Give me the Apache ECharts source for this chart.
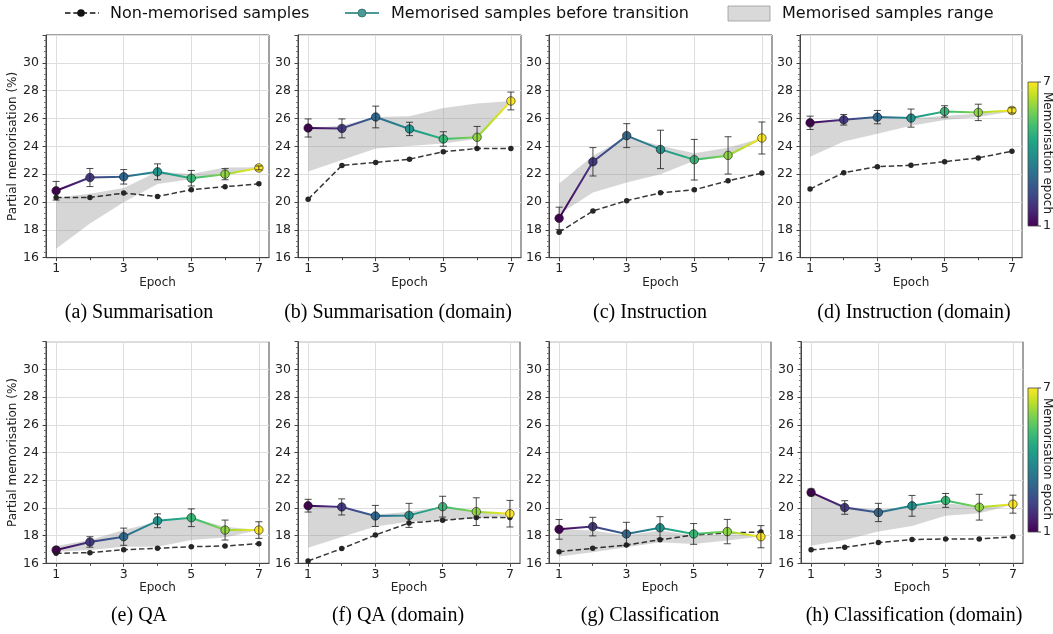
<!DOCTYPE html>
<html>
<head>
<meta charset="utf-8">
<script src="https://cdn.jsdelivr.net/npm/echarts@6/dist/echarts.min.js"></script>
<style>html,body{margin:0;padding:0;background:#fff}#c{width:1053px;height:634px}</style>
</head>
<body>
<div id="c"></div>
<script>
// ---------------- DATA ----------------
const epochs = [1, 2, 3, 4, 5, 6, 7];
const xTickLabels = [1, 3, 5, 7];
const xMinorTicks = [2, 4, 6];
const panelTitles = ['(a) Summarisation', '(b) Summarisation (domain)', '(c) Instruction', '(d) Instruction (domain)',
                     '(e) QA', '(f) QA (domain)', '(g) Classification', '(h) Classification (domain)'];
const legendLabels = ['Non-memorised samples', 'Memorised samples before transition', 'Memorised samples range'];
const colorbarTicks = ['7', '1'];

// Non-memorised samples (dashed)
const nonMemA = [20.33, 20.33, 20.64, 20.40, 20.88, 21.10, 21.31];
const nonMemB = [20.20, 22.63, 22.84, 23.08, 23.61, 23.85, 23.85];
const nonMemC = [17.83, 19.36, 20.10, 20.66, 20.88, 21.52, 22.08];
const nonMemD = [20.93, 22.11, 22.54, 22.64, 22.90, 23.17, 23.65];
const nonMemE = [16.72, 16.77, 16.98, 17.08, 17.20, 17.25, 17.42];
const nonMemF = [16.17, 17.06, 18.04, 18.91, 19.10, 19.30, 19.30];
const nonMemG = [16.84, 17.08, 17.32, 17.70, 18.04, 18.19, 18.26];
const nonMemH = [16.97, 17.16, 17.50, 17.71, 17.76, 17.76, 17.91];

// Memorised samples before transition (coloured line)
const memA = [20.81, 21.76, 21.81, 22.17, 21.71, 22.00, 22.45];
const memB = [25.32, 25.29, 26.11, 25.25, 24.53, 24.65, 27.26];
const memC = [18.83, 22.89, 24.77, 23.78, 23.04, 23.35, 24.60];
const memD = [25.69, 25.91, 26.10, 26.03, 26.51, 26.44, 26.58];
const memE = [16.96, 17.54, 17.92, 19.07, 19.29, 18.40, 18.40];
const memF = [20.16, 20.07, 19.42, 19.46, 20.09, 19.73, 19.58];
const memG = [18.45, 18.65, 18.12, 18.57, 18.12, 18.29, 17.92];
const memH = [21.12, 20.03, 19.67, 20.15, 20.54, 20.05, 20.27];

// Error bar half-widths
const errA = [0.67, 0.65, 0.52, 0.57, 0.56, 0.40, 0.14];
const errB = [0.65, 0.68, 0.78, 0.48, 0.52, 0.78, 0.64];
const errC = [0.80, 1.02, 0.86, 1.38, 1.46, 1.34, 1.15];
const errD = [0.48, 0.38, 0.48, 0.65, 0.41, 0.59, 0.19];
const errE = [0.19, 0.38, 0.62, 0.50, 0.64, 0.72, 0.60];
const errF = [0.46, 0.58, 0.76, 0.87, 0.75, 1.00, 0.96];
const errG = [0.71, 0.67, 0.84, 0.80, 0.75, 0.88, 0.80];
const errH = [0.24, 0.49, 0.66, 0.75, 0.50, 0.93, 0.65];

// Memorised samples range (band)
const rangeLowA  = [16.65, 18.45, 19.98, 21.29, 21.64, 22.05, 22.42];
const rangeHighA = [20.30, 20.60, 21.00, 22.17, 22.02, 22.48, 22.50];
const rangeLowB  = [22.20, 23.02, 23.85, 24.02, 24.20, 24.52, 27.20];
const rangeHighB = [25.30, 25.50, 26.10, 26.16, 26.76, 27.07, 27.26];
const rangeLowC  = [19.12, 20.68, 21.40, 22.00, 22.96, 23.25, 24.50];
const rangeHighC = [21.33, 23.30, 24.70, 24.05, 23.50, 23.90, 24.60];
const rangeLowD  = [23.26, 24.35, 24.90, 25.48, 25.90, 26.10, 26.50];
const rangeHighD = [25.69, 25.91, 26.05, 26.00, 26.20, 26.34, 26.58];
const rangeLowE  = [16.84, 16.96, 17.20, 17.20, 17.68, 17.87, 18.40];
const rangeHighE = [17.25, 17.68, 18.40, 19.00, 19.29, 18.64, 18.40];
const rangeLowF  = [17.13, 17.90, 18.65, 19.00, 19.13, 19.25, 19.42];
const rangeHighF = [20.16, 19.90, 19.50, 19.73, 20.09, 19.70, 19.50];
const rangeLowG  = [16.50, 16.80, 17.16, 17.52, 17.40, 17.64, 17.93];
const rangeHighG = [18.45, 18.36, 18.00, 18.36, 18.00, 18.10, 18.00];
const rangeLowH  = [17.26, 17.69, 18.29, 18.70, 19.43, 19.62, 20.22];
const rangeHighH = [21.12, 20.10, 19.86, 20.10, 20.34, 20.10, 20.27];

// ---------------- CHART ----------------
const nonMem = [nonMemA, nonMemB, nonMemC, nonMemD, nonMemE, nonMemF, nonMemG, nonMemH];
const mem = [memA, memB, memC, memD, memE, memF, memG, memH];
const err = [errA, errB, errC, errD, errE, errF, errG, errH];
const lows = [rangeLowA, rangeLowB, rangeLowC, rangeLowD, rangeLowE, rangeLowF, rangeLowG, rangeLowH];
const highs = [rangeHighA, rangeHighB, rangeHighC, rangeHighD, rangeHighE, rangeHighF, rangeHighG, rangeHighH];

const viridis = ['#440154', '#482475', '#414487', '#355f8d', '#2a788e', '#21918c', '#22a884', '#44bf70', '#7ad151', '#bddf26', '#fde725'];
const FONT = 'DejaVu Sans';

const gridRects = [
  {left: 46, top: 35, width: 223, height: 222.7},
  {left: 298, top: 35, width: 223, height: 222.7},
  {left: 549, top: 35, width: 223, height: 222.7},
  {left: 800, top: 35, width: 222, height: 222.7},
  {left: 46, top: 341.7, width: 223, height: 221.6},
  {left: 298, top: 341.7, width: 222, height: 221.6},
  {left: 549, top: 341.7, width: 222, height: 221.6},
  {left: 801, top: 341.7, width: 222, height: 221.6}
];

const grids = [], xAxes = [], yAxes = [], series = [], memSeriesIdx = [];
gridRects.forEach((g, k) => {
  grids.push(Object.assign({show: true, borderColor: '#444', borderWidth: 1, backgroundColor: 'transparent'}, g));
  xAxes.push({
    type: 'value', gridIndex: k, min: 0.7, max: 7.3,
    name: 'Epoch', nameLocation: 'middle', nameGap: 18,
    nameTextStyle: {fontFamily: FONT, fontSize: 12, color: '#222'},
    axisLine: {show: true, onZero: false, lineStyle: {color: '#444', width: 1}},
    axisTick: {show: true, length: 3.5, customValues: xTickLabels, lineStyle: {color: '#444'}},
    axisLabel: {customValues: xTickLabels, fontFamily: FONT, fontSize: 12.5, color: '#222', margin: 5},
    splitLine: {show: true, lineStyle: {color: '#dedede', width: 1}}
  });
  xAxes.push({
    type: 'value', gridIndex: k, min: 0.7, max: 7.3, position: 'bottom',
    axisLine: {show: false},
    axisTick: {show: true, length: 2.5, customValues: xMinorTicks, lineStyle: {color: '#444'}},
    axisLabel: {show: false},
    splitLine: {show: false}
  });
  const yAx = {
    type: 'value', gridIndex: k, min: 16, max: 32, interval: 2,
    axisLine: {show: true, onZero: false, lineStyle: {color: '#444', width: 1}},
    axisTick: {show: true, length: 3.5, lineStyle: {color: '#444'}},
    minorTick: {show: true, splitNumber: 5, length: 2, lineStyle: {color: '#777'}},
    axisLabel: {fontFamily: FONT, fontSize: 12.5, color: '#222', margin: 7,
                formatter: v => (v >= 31 ? '' : String(v))},
    splitLine: {show: true, lineStyle: {color: '#dedede', width: 1}}
  };
  if (k % 4 === 0) {
    yAx.name = 'Partial memorisation (%)';
    yAx.nameLocation = 'middle';
    yAx.nameGap = 23;
    yAx.nameTextStyle = {fontFamily: FONT, fontSize: 12, color: '#222'};
  }
  yAxes.push(yAx);

  // band
  series.push({
    name: legendLabels[2], type: 'custom', xAxisIndex: 2 * k, yAxisIndex: k, z: 1, silent: true,
    data: epochs.map((e, i) => [e, lows[k][i], highs[k][i]]),
    encode: {x: 0, y: [1, 2]},
    renderItem: function (params, api) {
      if (params.dataIndexInside !== 0) return null;
      const n = params.dataInsideLength;
      const pts = [];
      for (let i = 0; i < n; i++) pts.push(api.coord([api.value(0, i), api.value(2, i)]));
      for (let i = n - 1; i >= 0; i--) pts.push(api.coord([api.value(0, i), api.value(1, i)]));
      return {type: 'polygon', shape: {points: pts}, style: {fill: 'rgba(140,140,140,0.36)'}};
    }
  });
  // non-memorised
  series.push({
    name: legendLabels[0], type: 'line', xAxisIndex: 2 * k, yAxisIndex: k, z: 2,
    data: epochs.map((e, i) => [e, nonMem[k][i]]),
    symbol: 'circle', symbolSize: 5.5,
    itemStyle: {color: '#262626'},
    lineStyle: {color: 'rgba(0,0,0,0.78)', width: 1.5, type: [5.5, 2.8]},
    silent: true
  });
  // memorised
  memSeriesIdx.push(series.length);
  series.push({
    name: legendLabels[1], type: 'line', xAxisIndex: 2 * k, yAxisIndex: k, z: 3,
    data: epochs.map((e, i) => [e, mem[k][i]]),
    symbol: 'circle', symbolSize: 8.5,
    itemStyle: {borderColor: 'rgba(20,20,20,0.75)', borderWidth: 0.8},
    lineStyle: {width: 2},
    silent: true
  });
  // error bars
  series.push({
    type: 'custom', xAxisIndex: 2 * k, yAxisIndex: k, z: 4, silent: true,
    data: epochs.map((e, i) => [e, mem[k][i], err[k][i]]),
    encode: {x: 0, y: 1},
    renderItem: function (params, api) {
      const x = api.value(0), y = api.value(1), e = api.value(2);
      const top = api.coord([x, y + e]), bot = api.coord([x, y - e]);
      const cw = 3.5;
      const st = {stroke: 'rgba(30,30,30,0.8)', lineWidth: 1};
      return {type: 'group', children: [
        {type: 'line', shape: {x1: top[0], y1: top[1], x2: bot[0], y2: bot[1]}, style: st},
        {type: 'line', shape: {x1: top[0] - cw, y1: top[1], x2: top[0] + cw, y2: top[1]}, style: st},
        {type: 'line', shape: {x1: bot[0] - cw, y1: bot[1], x2: bot[0] + cw, y2: bot[1]}, style: st}
      ]};
    }
  });
});

// ---------- graphic: legend, titles, colorbars ----------
const graphic = [];
graphic.push({type: 'line', shape: {x1: 65, y1: 13, x2: 99, y2: 13}, style: {stroke: '#111', lineWidth: 1.5, lineDash: [5.5, 2.8]}});
graphic.push({type: 'circle', shape: {cx: 81, cy: 13, r: 3.8}, style: {fill: '#111'}});
graphic.push({type: 'text', x: 110, y: 13.5, style: {text: legendLabels[0], font: '16px "DejaVu Sans"', fill: '#111', verticalAlign: 'middle'}});
graphic.push({type: 'line', shape: {x1: 345, y1: 13, x2: 379, y2: 13}, style: {stroke: '#4b9a97', lineWidth: 2}});
graphic.push({type: 'circle', shape: {cx: 362, cy: 13, r: 4}, style: {fill: '#4b9a97', stroke: '#2f6b68', lineWidth: 0.8}});
graphic.push({type: 'text', x: 391, y: 13.5, style: {text: legendLabels[1], font: '16px "DejaVu Sans"', fill: '#111', verticalAlign: 'middle'}});
graphic.push({type: 'rect', shape: {x: 728, y: 6, width: 42, height: 15}, style: {fill: '#d9d9d9', stroke: '#9a9a9a', lineWidth: 0.8}});
graphic.push({type: 'text', x: 782, y: 13.5, style: {text: legendLabels[2], font: '16px "DejaVu Sans"', fill: '#111', verticalAlign: 'middle'}});

const titleCenters = [139, 398, 650, 914];
panelTitles.forEach((t, k) => {
  graphic.push({type: 'text', x: titleCenters[k % 4], y: k < 4 ? 313 : 616,
    style: {text: t, font: '20px "Liberation Serif"', fill: '#000', align: 'center', verticalAlign: 'middle'}});
});

[[82, 144], [388, 144]].forEach(([top, h]) => {
  graphic.push({type: 'rect', shape: {x: 1028, y: top, width: 10, height: h},
    style: {fill: new echarts.graphic.LinearGradient(0, 1, 0, 0, viridis.map((c, i) => ({offset: i / (viridis.length - 1), color: c}))),
            stroke: '#444', lineWidth: 0.8}});
  graphic.push({type: 'line', shape: {x1: 1038, y1: top, x2: 1041, y2: top}, style: {stroke: '#444', lineWidth: 1}});
  graphic.push({type: 'line', shape: {x1: 1038, y1: top + h, x2: 1041, y2: top + h}, style: {stroke: '#444', lineWidth: 1}});
  graphic.push({type: 'text', x: 1043, y: top, style: {text: colorbarTicks[0], font: '12.5px "DejaVu Sans"', fill: '#222', verticalAlign: 'middle'}});
  graphic.push({type: 'text', x: 1043, y: top + h, style: {text: colorbarTicks[1], font: '12.5px "DejaVu Sans"', fill: '#222', verticalAlign: 'middle'}});
  graphic.push({type: 'text', x: 1047, y: top + h / 2 - 1, rotation: -Math.PI / 2,
    style: {text: 'Memorisation epoch', font: '12px "DejaVu Sans"', fill: '#222', align: 'center', verticalAlign: 'middle'}});
});

const chart = echarts.init(document.getElementById('c'), null, {renderer: 'canvas'});
chart.setOption({
  animation: false,
  backgroundColor: '#fff',
  textStyle: {fontFamily: FONT},
  grid: grids,
  xAxis: xAxes,
  yAxis: yAxes,
  visualMap: [{
    type: 'continuous', show: false, dimension: 0, min: 1, max: 7,
    seriesIndex: memSeriesIdx, inRange: {color: viridis}
  }],
  series: series,
  graphic: graphic
});
</script>
</body>
</html>
